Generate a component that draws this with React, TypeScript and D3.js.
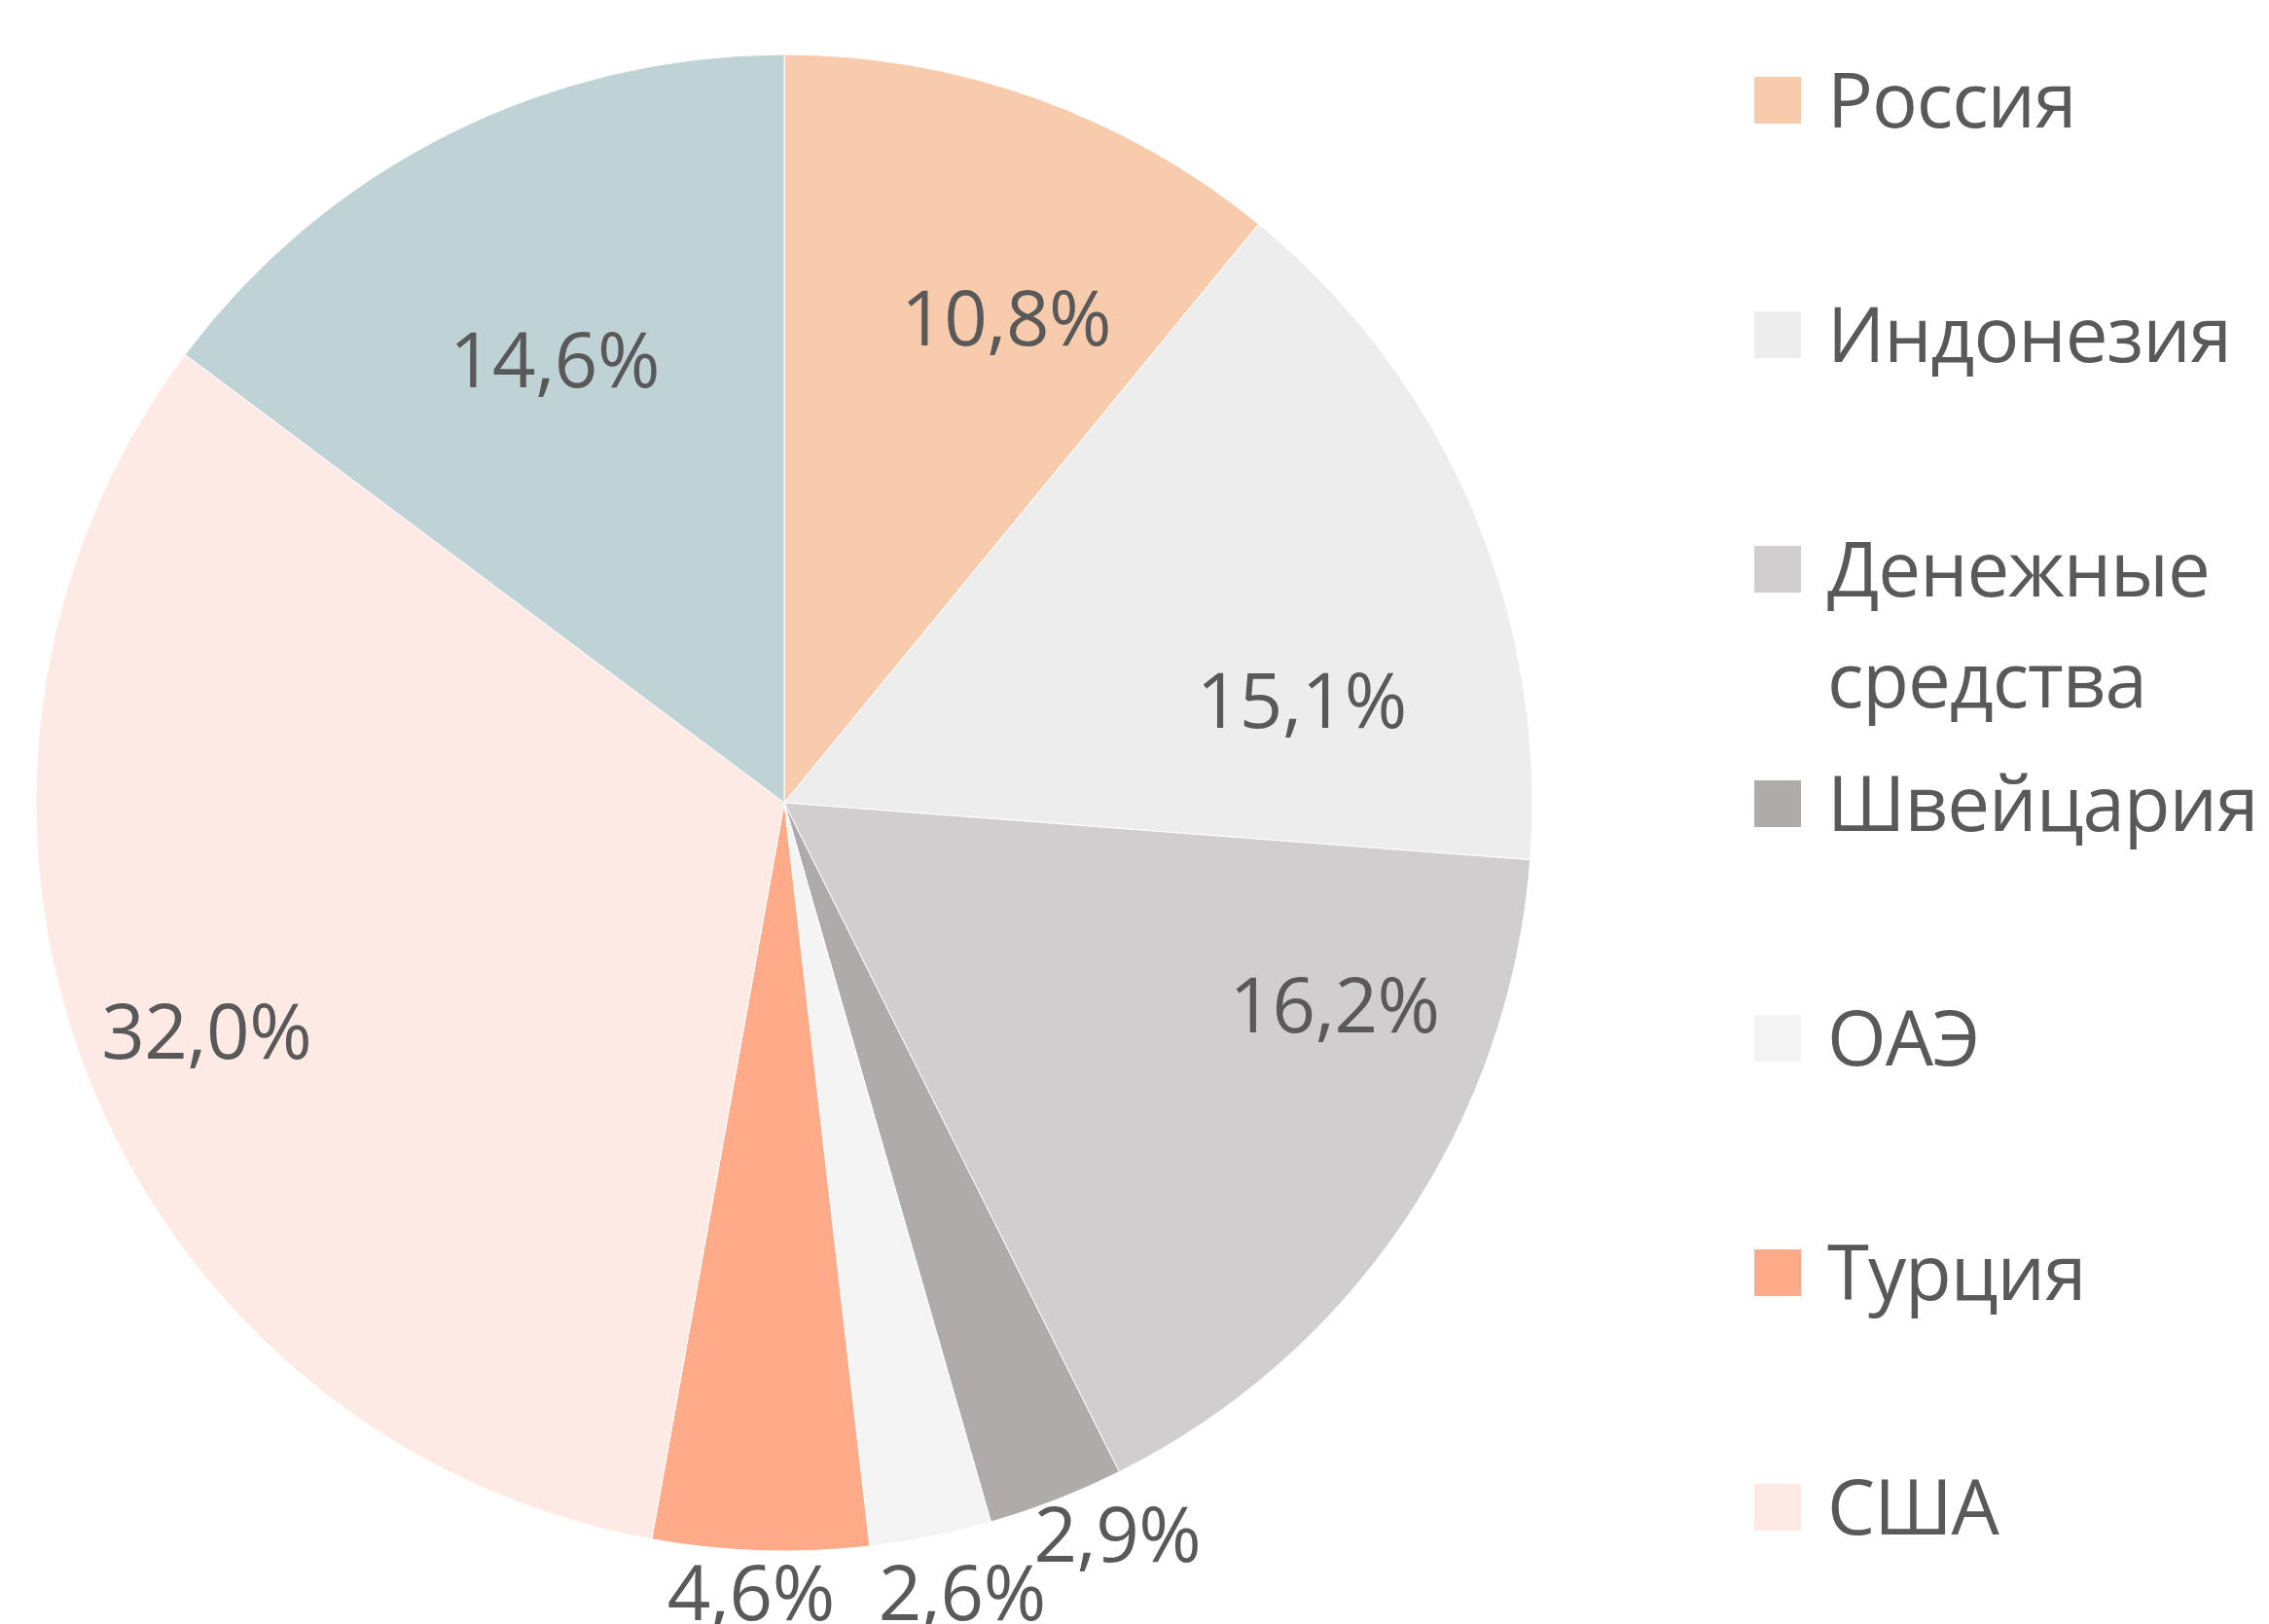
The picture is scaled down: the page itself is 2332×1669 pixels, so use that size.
import React from "react";
import * as d3 from "d3";

// ---- data ----
const categories = ["Россия", "Индонезия", "Денежные средства", "Швейцария", "ОАЭ", "Турция", "США", "Прочие"];
const values = [10.8, 15.1, 16.2, 2.9, 2.6, 4.6, 32.0, 14.6];
const labels = ["10,8%", "15,1%", "16,2%", "2,9%", "2,6%", "4,6%", "32,0%", "14,6%"];
const colors = ["#F8CBAD", "#EDEDED", "#D0CECE", "#AFABAB", "#F4F4F4", "#FFAA88", "#FDEAE5", "#BFD3D6"];
// legend rows shown in the reference (the last category is not listed)
const legendItems = [0, 1, 2, 3, 4, 5, 6];
const legendLines = [["Россия"], ["Индонезия"], ["Денежные", "средства"], ["Швейцария"], ["ОАЭ"], ["Турция"], ["США"]];

// ---- layout ----
const W = 2332;
const H = 1669;
const CX = 806;
const CY = 825;
const R = 769;
const FONT = "'Segoe UI', 'Open Sans', 'Noto Sans', sans-serif";
const FS = 78;
const TEXT = "#595959";
// label placement (radius factor, angular nudge in degrees), emulating the best‑fit layout
const labelRadius = [0.713, 0.705, 0.783, 1.073, 1.081, 1.056, 0.83, 0.667];
const labelNudge = [4.9, 11.9, -13.8, -3.2, -1.4, 0.6, 0, -0.8];
const legendTop = 103;
const legendStep = 241;
const legendX = 1803;
const swatch = 48;

export default function App() {
  const pie = d3.pie<number>().sort(null).value((d) => d);
  const arcs = pie(values);
  const arc = d3.arc<d3.PieArcDatum<number>>().innerRadius(0).outerRadius(R);

  return (
    <svg width={W} height={H} style={{ position: "absolute", left: 0, top: 0 }} fontFamily={FONT}>
      <rect width={W} height={H} fill="#fff" />
      <g transform={`translate(${CX},${CY})`}>
        {arcs.map((a, i) => (
          <path key={i} d={arc(a) || ""} fill={colors[i]} stroke="#fff" strokeWidth={1} />
        ))}
        {arcs.map((a, i) => {
          const mid = (a.startAngle + a.endAngle) / 2 + (labelNudge[i] * Math.PI) / 180;
          const rr = labelRadius[i] * R;
          const x = Math.sin(mid) * rr;
          const y = -Math.cos(mid) * rr;
          return (
            <text key={i} x={x} y={y + FS * 0.37} textAnchor="middle" fontSize={FS} fill={TEXT} letterSpacing={-0.5}>
              {labels[i]}
            </text>
          );
        })}
      </g>
      <g>
        {legendItems.map((idx, k) => {
          const lines = legendLines[k];
          const y = legendTop + k * legendStep;
          return (
            <g key={idx}>
              <rect x={legendX} y={y - swatch / 2} width={swatch} height={swatch} fill={colors[idx]} />
              {lines.map((ln, j) => (
                <text key={j} x={1878} y={y + 28 + j * 114} fontSize={FS} fill={TEXT} letterSpacing={-1}>
                  {ln}
                </text>
              ))}
            </g>
          );
        })}
      </g>
    </svg>
  );
}
